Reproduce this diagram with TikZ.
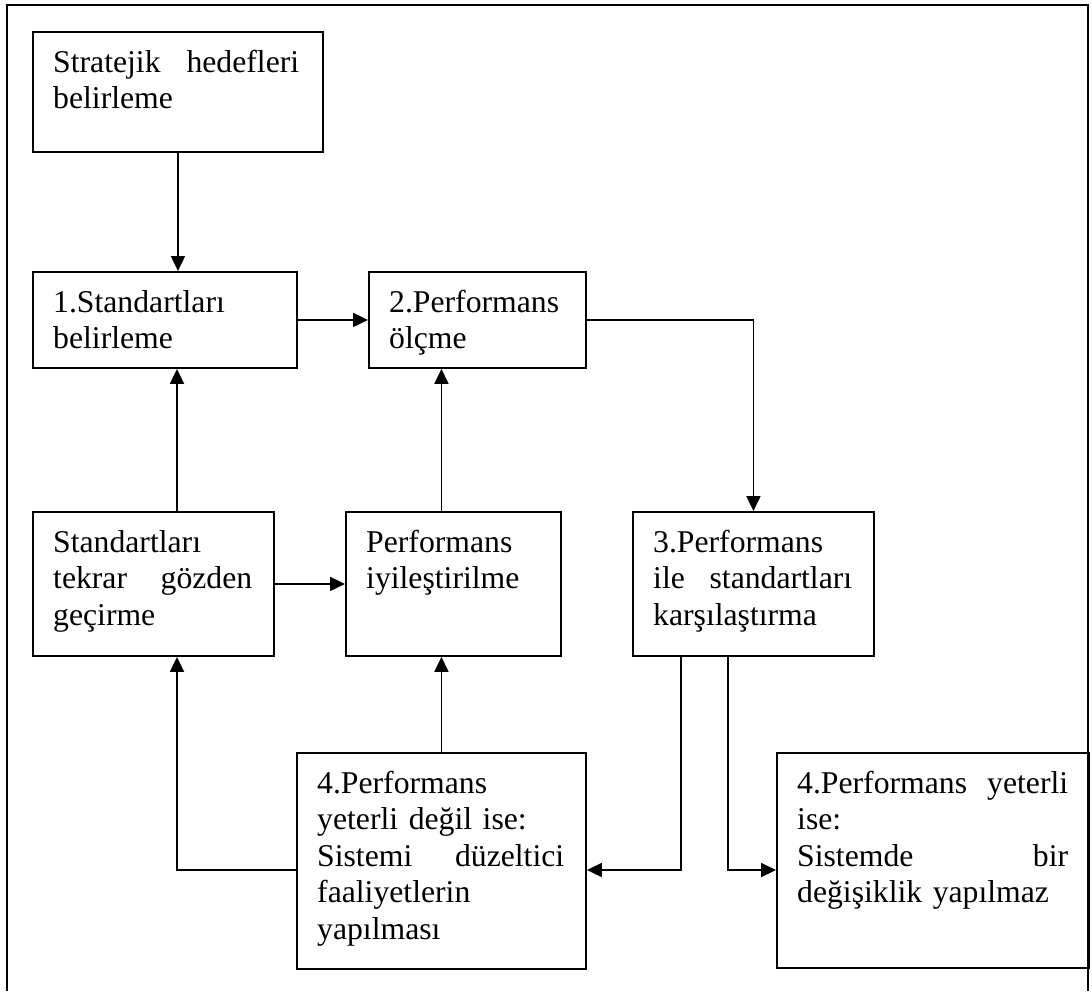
\documentclass[tikz,border=0pt]{standalone}
\usepackage{fontspec}
\setmainfont{Liberation Serif}
\usetikzlibrary{arrows.meta}
\newcommand{\jline}[2]{\makebox[\linewidth]{#1\hfill #2}}
\begin{document}
\begin{tikzpicture}[x=1pt,y=-1pt,
  box/.style={draw, line width=1.9pt, inner sep=0pt, anchor=north west},
  txt/.style={inner sep=0pt, anchor=base west, align=left,
    font=\fontsize{31.7}{36.5}\selectfont},
  conn/.style={line width=1.9pt},
  arr/.style={conn, -{Triangle[length=15pt,width=14pt]}},
  frame/.style={line width=2.6pt}]
\useasboundingbox (0,0) rectangle (1092,991);
\draw[frame] (7,991) -- (7,5) -- (1088,5) -- (1088,991);

% boxes
\node[box, minimum width=290pt, minimum height=120pt] (A) at (32,31) {};
\node[box, minimum width=264pt, minimum height=96pt]  (B) at (32,271) {};
\node[box, minimum width=217pt, minimum height=96pt]  (C) at (368,271) {};
\node[box, minimum width=241pt, minimum height=144pt] (D) at (32,511) {};
\node[box, minimum width=215pt, minimum height=144pt] (E) at (345,511) {};
\node[box, minimum width=241pt, minimum height=144pt] (F) at (632,511) {};
\node[box, minimum width=289pt, minimum height=216pt] (G) at (296,752) {};
\node[box, minimum width=312pt, minimum height=215pt] (H) at (776,752) {};

% texts
\node[txt, text width=246pt] (At) at ([xshift=21pt,yshift=-41pt]A.north west)
  {\jline{Stratejik}{hedefleri}\\belirleme};
\node[txt, text width=222pt] (Bt) at ([xshift=21pt,yshift=-41pt]B.north west)
  {1.Standartları\\belirleme};
\node[txt, text width=175pt] (Ct) at ([xshift=21pt,yshift=-41pt]C.north west)
  {2.Performans\\ölçme};
\node[txt, text width=199pt] (Dt) at ([xshift=21pt,yshift=-41pt]D.north west)
  {Standartları\\\jline{tekrar}{gözden}\\geçirme};
\node[txt, text width=173pt] (Et) at ([xshift=21pt,yshift=-41pt]E.north west)
  {Performans\\iyileştirilme};
\node[txt, text width=199pt] (Ft) at ([xshift=21pt,yshift=-41pt]F.north west)
  {3.Performans\\\jline{ile}{standartları}\\karşılaştırma};
\node[txt, text width=247pt] (Gt) at ([xshift=21pt,yshift=-41pt]G.north west)
  {4.Performans\\yeterli değil ise:\\\jline{Sistemi}{düzeltici}\\faaliyetlerin\\yapılması};
\node[txt, text width=271pt] (Ht) at ([xshift=21pt,yshift=-41pt]H.north west)
  {\jline{4.Performans}{yeterli}\\ise:\\\jline{Sistemde}{bir}\\değişiklik yapılmaz};

% helper coordinates
\coordinate (colA) at (177,0);
\coordinate (rowG) at (0,870);
\coordinate (f1) at (681,655);
\coordinate (f2) at (728,655);

% connectors
\draw[arr] (A.south) -- (A.south |- B.north);
\draw[arr] (B.east) -- (C.west);
\draw[arr] (C.east) -| (F.north);
\draw[arr] (colA |- D.north) -- (colA |- B.south);
\draw[arr] (G.north |- E.north) -- (G.north |- C.south);
\draw[arr] (D.east) -- (E.west);
\draw[arr] (G.north) -- (G.north |- E.south);
\draw[arr] (G.west |- rowG) -- (colA |- rowG) -- (colA |- D.south);
\draw[arr] (f1) -- (f1 |- rowG) -- (G.east |- rowG);
\draw[arr] (f2) -- (f2 |- rowG) -- (H.west |- rowG);
\end{tikzpicture}
\end{document}
